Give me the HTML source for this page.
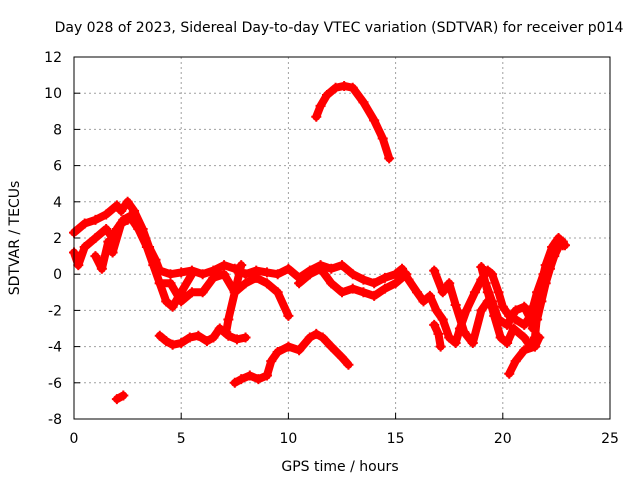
<!DOCTYPE html>
<html><head><meta charset="utf-8"><style>
body{margin:0;background:#fff;}
svg text{font-family:"DejaVu Sans","Liberation Sans",sans-serif;font-size:14px;fill:#000;}
</style></head><body>
<svg id="chart" width="640" height="480" xmlns="http://www.w3.org/2000/svg">
<rect width="640" height="480" fill="#fff"/>
<text x="339" y="32" text-anchor="middle">Day 028 of 2023, Sidereal Day-to-day VTEC variation (SDTVAR) for receiver p014</text>
<text x="340" y="471" text-anchor="middle">GPS time / hours</text>
<text transform="translate(19,238) rotate(-90)" text-anchor="middle">SDTVAR / TECUs</text>
<g id="grid"></g>
<g id="marks"></g>
<rect x="74" y="57" width="536" height="362" fill="none" stroke="#000" stroke-width="1"/>
<g id="ticks"></g>
</svg>
<script>
const xTicks=[0,5,10,15,20,25];
const yTicks=[-8,-6,-4,-2,0,2,4,6,8,10,12];
const track1=[[0,1.2],[0.2,0.5],[0.5,1.5],[1,2],[1.5,2.5],[1.8,2],[2,2.5],[2.3,3],[2.6,3.2],[3,2.5],[3.4,1.5],[3.7,0.5],[4,-0.5],[4.3,-1.5],[4.6,-1.8],[5,-1],[5.5,0]];
const track2=[[0,2.3],[0.5,2.8],[1,3],[1.5,3.3],[2,3.8],[2.2,3.5],[2.5,4],[2.8,3.5],[3.2,2.5],[3.5,1.5],[3.8,0.8],[4,0.2],[4.5,0],[5,0.1],[5.5,0.2],[6,0],[6.5,0.2],[7,0.5],[7.5,0.3],[8,0],[8.5,0.2],[9,0.1],[9.5,0],[10,0.3],[10.5,-0.2],[11,0.2],[11.5,0.5],[12,0.3],[12.5,0.5],[13,0],[13.5,-0.3],[14,-0.5],[14.5,-0.2],[15,0],[15.3,0.3],[15.6,-0.3],[16,-1],[16.3,-1.5],[16.6,-1.2],[16.9,-2],[17.2,-2.5],[17.5,-3.5],[17.8,-3.8],[18,-3],[18.3,-2],[18.7,-1],[19,-0.3],[19.3,0.2],[19.5,0],[19.8,-1],[20,-1.8],[20.3,-2.3],[20.6,-2.5],[21,-2.8],[21.3,-2.3],[21.6,-1],[21.9,0],[22.2,1],[22.5,1.8],[22.8,1.6]];
const track3=[[1,1],[1.3,0.3],[1.6,1.8],[1.8,1.2],[2.2,2.8],[2.5,3]];
const track4=[[4,-0.5],[4.5,-0.5],[5,-1.5],[5.5,-1],[6,-1],[6.5,-0.2],[7,0],[7.5,-1],[8,-0.5],[8.5,-0.2],[9,-0.5],[9.5,-1],[10,-2.3]];
const track5=[[10.5,-0.5],[11,0],[11.5,0.3],[12,-0.5],[12.5,-1],[13,-0.8],[13.5,-1],[14,-1.2],[14.5,-0.8],[15,-0.5],[15.5,0]];
const track6=[[19,0.4],[19.3,-1],[19.6,-2.3],[19.9,-3.5],[20.2,-3.8],[20.5,-3],[21,-3.5],[21.3,-4],[21.5,-3.5],[21.7,-1],[22,0.5],[22.3,1.5],[22.6,2],[22.9,1.6]];
const track7=[[16.8,0.2],[17.2,-1],[17.5,-0.5],[17.8,-1.7],[18.2,-3.2],[18.6,-3.8],[19,-2],[19.3,-1.5]];
const track8=[[16.8,-2.8],[17,-3.3],[17.1,-4]];
const track9=[[20.3,-5.5],[20.6,-4.8],[21,-4.2],[21.5,-4],[21.7,-3.5]];
const track10=[[4,-3.4],[4.3,-3.7],[4.6,-3.9],[5,-3.8],[5.4,-3.5],[5.8,-3.4],[6.2,-3.7],[6.5,-3.5],[6.8,-3],[7.2,-3.4],[7.6,-3.6],[8,-3.5]];
const track11=[[7.8,0.5],[7.5,-1],[7.2,-2.5],[7.1,-3.2]];
const track12=[[7.5,-6],[7.8,-5.8],[8.2,-5.6],[8.6,-5.8],[9,-5.6],[9.2,-4.8],[9.5,-4.3],[10,-4],[10.5,-4.2],[11,-3.5],[11.3,-3.3],[11.6,-3.5],[12,-4],[12.5,-4.6],[12.8,-5]];
const track13=[[2,-6.9],[2.3,-6.7]];
const track14=[[11.3,8.7],[11.5,9.3],[11.8,9.9],[12.2,10.3],[12.6,10.4],[13,10.3],[13.5,9.5],[14,8.5],[14.4,7.5],[14.7,6.4]];
const track15=[[21.2,-2],[21.4,-3],[21.6,-2.5],[21.8,-1.5],[22,-0.5],[22.2,0.3],[22.4,1],[22.6,1.5],[22.8,1.8]];
const track16=[[19.2,-0.5],[19.5,-1.5],[19.8,-2.5],[20.2,-2.8],[20.6,-2],[21,-1.8],[21.3,-2.5]];
const tracks=[track1,track2,track3,track4,track5,track6,track7,track8,track9,track10,track11,track12,track13,track14,track15,track16];
const NS="http://www.w3.org/2000/svg";
const X=v=>74+v*536/25, Y=v=>419-(v+8)*362/20;
function mk(t,a,p){const e=document.createElementNS(NS,t);for(const k in a)e.setAttribute(k,a[k]);p.appendChild(e);return e;}
const grid=document.getElementById('grid'),ticks=document.getElementById('ticks'),marks=document.getElementById('marks');
xTicks.forEach(t=>{const x=X(t);
 if(t>0&&t<25){const g=mk('line',{x1:x,x2:x,y1:57,y2:419,stroke:'#a0a0a0','stroke-dasharray':'2,3'},grid);}
 const l=mk('line',{x1:x,x2:x,y1:419,y2:413,stroke:'#000'},ticks);
 const tx=mk('text',{x:x,y:443,'text-anchor':'middle'},ticks);tx.textContent=t;});
yTicks.forEach(t=>{const y=Y(t);
 if(t>-8&&t<12){const g=mk('line',{x1:74,x2:610,y1:y,y2:y,stroke:'#a0a0a0','stroke-dasharray':'2,3'},grid);}
 const l=mk('line',{x1:74,x2:80,y1:y,y2:y,stroke:'#000'},ticks);
 const tx=mk('text',{x:62,y:y+5,'text-anchor':'end'},ticks);tx.textContent=t;});
tracks.forEach(tr=>{
 const pl=mk('polyline',{points:tr.map(p=>X(p[0])+','+Y(p[1])).join(' '),fill:'none',stroke:'#f00','stroke-width':8,'stroke-linejoin':'round','stroke-linecap':'round'},marks);
 
 
 tr.forEach(p=>{const x=X(p[0]),y=Y(p[1]);
  const m=mk('path',{d:`M${x-5},${y}h10M${x},${y-5}v10`,stroke:'#f00','stroke-width':2},marks);
  
  });
});
</script>
</body></html>
